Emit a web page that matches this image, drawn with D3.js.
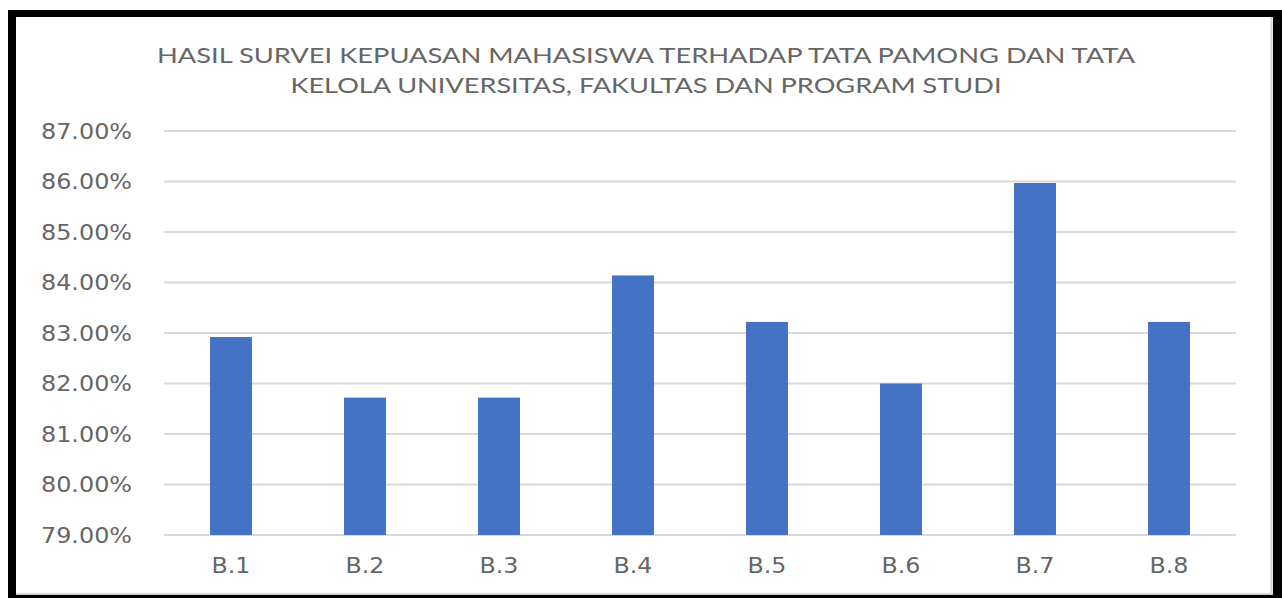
<!DOCTYPE html>
<html>
<head>
<meta charset="utf-8">
<script src="https://cdn.jsdelivr.net/npm/d3@7/dist/d3.min.js"></script>
<style>
  html, body { margin: 0; padding: 0; background: #fff; }
  svg { display: block; }
</style>
</head>
<body>
<svg id="chart" width="1282" height="598"></svg>
<script>
const titleLines = [
  "HASIL SURVEI KEPUASAN MAHASISWA TERHADAP TATA PAMONG DAN TATA",
  "KELOLA UNIVERSITAS, FAKULTAS DAN PROGRAM STUDI"
];
const categories = ["B.1", "B.2", "B.3", "B.4", "B.5", "B.6", "B.7", "B.8"];
const values = [82.92, 81.72, 81.72, 84.14, 83.22, 82.00, 85.97, 83.22];
const yTicks = [79, 80, 81, 82, 83, 84, 85, 86, 87];

const svg = d3.select("#chart");

// frame
svg.append("rect").attr("x", 8).attr("y", 10).attr("width", 1290).attr("height", 600).attr("fill", "#000");
svg.append("rect").attr("x", 16).attr("y", 17).attr("width", 1257).attr("height", 578).attr("fill", "#fff");
svg.append("line").attr("x1", 1271.5).attr("x2", 1271.5).attr("y1", 17).attr("y2", 595).attr("stroke", "#d4d4d4").attr("stroke-width", 2);
svg.append("line").attr("x1", 16).attr("x2", 1273).attr("y1", 594).attr("y2", 594).attr("stroke", "#d4d4d4").attr("stroke-width", 2);

const x = d3.scaleBand().domain(categories).range([164, 1236]).padding(0);
const y = d3.scaleLinear().domain([79, 87]).range([535, 131]);
const barW = x.bandwidth() * 0.313;

// gridlines
svg.append("g").selectAll("line").data(yTicks).join("line")
  .attr("x1", 164).attr("x2", 1236)
  .attr("y1", d => y(d)).attr("y2", d => y(d))
  .attr("stroke", "#d9d9d9").attr("stroke-width", 2);

// y labels
svg.append("g").selectAll("text").data(yTicks).join("text")
  .attr("x", 132).attr("y", d => y(d))
  .attr("dy", "0.36em")
  .attr("text-anchor", "end")
  .attr("font-family", "DejaVu Sans, sans-serif")
  .attr("font-size", 21)
  .attr("fill", "#666")
  .attr("textLength", 91)
  .attr("lengthAdjust", "spacingAndGlyphs")
  .text(d => d.toFixed(2) + "%");

// bars
svg.append("g").selectAll("rect").data(values).join("rect")
  .attr("x", (d, i) => x(categories[i]) + x.bandwidth() / 2 - barW / 2)
  .attr("width", barW)
  .attr("y", d => y(d))
  .attr("height", d => y(79) - y(d))
  .attr("fill", "#4472C4");

// x labels
svg.append("g").selectAll("text").data(categories).join("text")
  .attr("x", d => x(d) + x.bandwidth() / 2)
  .attr("y", 573)
  .attr("text-anchor", "middle")
  .attr("font-family", "DejaVu Sans, sans-serif")
  .attr("font-size", 21)
  .attr("fill", "#666")
  .attr("textLength", 39)
  .attr("lengthAdjust", "spacingAndGlyphs")
  .text(d => d);

// title
const tl = [978, 711];
svg.append("g").selectAll("text").data(titleLines).join("text")
  .attr("x", 646).attr("y", (d, i) => 63 + i * 30)
  .attr("text-anchor", "middle")
  .attr("font-family", "Lato, sans-serif")
  .attr("font-size", 22)
  .attr("fill", "#666")
  .attr("textLength", (d, i) => tl[i])
  .attr("lengthAdjust", "spacingAndGlyphs")
  .text(d => d);
</script>
</body>
</html>
